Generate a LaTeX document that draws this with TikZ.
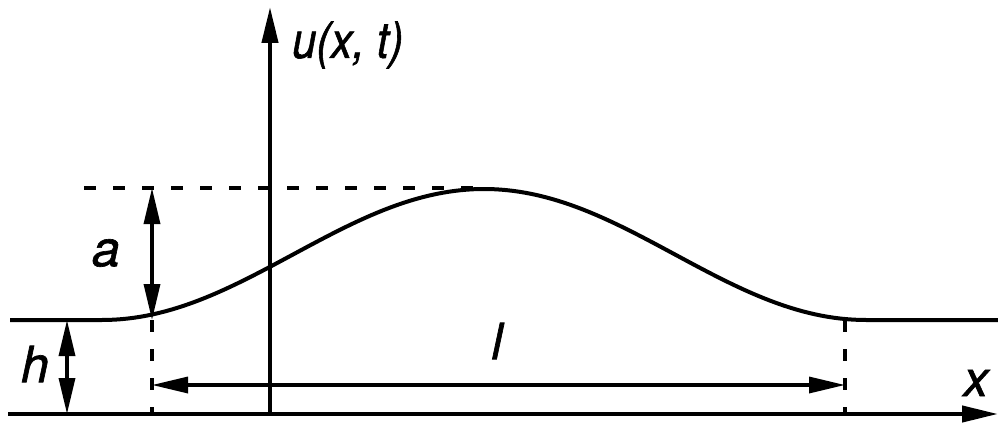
\documentclass[tikz,border=0pt]{standalone}
\usepackage{fontspec}
\setmainfont{TeX Gyre Heros}
\newfontfamily\lblfont{TeX Gyre Heros}[FakeBold=1.3]
\usetikzlibrary{arrows.meta}
\tikzset{
  axis/.style={line width=4.2pt, -{Triangle[length=36pt,width=16pt]}},
  dim/.style={line width=3.4pt, {Triangle[length=36pt,width=16pt]}-{Triangle[length=36pt,width=16pt]}},
  dsh/.style={line width=4pt, dash pattern=on 12pt off 17pt},
  wave/.style={line width=4pt, line join=round},
  lbl/.style={inner sep=0pt, font=\lblfont\fontsize{50}{56}\selectfont\itshape}
}
\begin{document}
\begin{tikzpicture}[x=1pt,y=-1pt]
\useasboundingbox (0,0) rectangle (998,428);
% coordinates
\coordinate (xl) at (8,414);
\coordinate (xr) at (998,414);
\coordinate (yb) at (270,414);
\coordinate (yt) at (270,7);
\coordinate (dL) at (84,188);
\coordinate (dR) at (486,188);
\coordinate (aT) at (152,188);
\coordinate (aB) at (152,320);
\coordinate (hT) at (67,320);
\coordinate (hB) at (67,414);
\coordinate (vL) at (152,414);
\coordinate (vR) at (845,320);
\coordinate (vRb) at (845,414);
\coordinate (lL) at (152,385);
\coordinate (lR) at (845,385);
\coordinate (wL) at (10,320);
\coordinate (wR) at (998,320);
% axes
\draw[axis] (xl) -- (xr);
\draw[axis] (yb) -- (yt);
% water surface with bump
\draw[wave] (wL) -- (102,320) -- plot[domain=102:866, samples=120] (\x, {320 - 65.5*(1+cos(0.4712*(\x-484)))}) -- (wR);
% dashed guides
\draw[dsh] (dL) -- (dR);
\draw[dsh] (aB) -- (vL);
\draw[dsh] (vR) -- (vRb);
% dimension arrows
\draw[dim] (aT) -- (aB);
\draw[dim] (hT) -- (hB);
\draw[dim] (lL) -- (lR);
% labels
\node[lbl, anchor=west] (u) at (292,45) {\scalebox{0.87}[1]{u(x, t)}};
\node[lbl] (la) at (106,253) {a};
\node[lbl] (lh) at (35,364) {h};
\node[lbl] (ll) at (497,341) {l};
\node[lbl] (lx) at (976,383) {x};
\end{tikzpicture}
\end{document}
